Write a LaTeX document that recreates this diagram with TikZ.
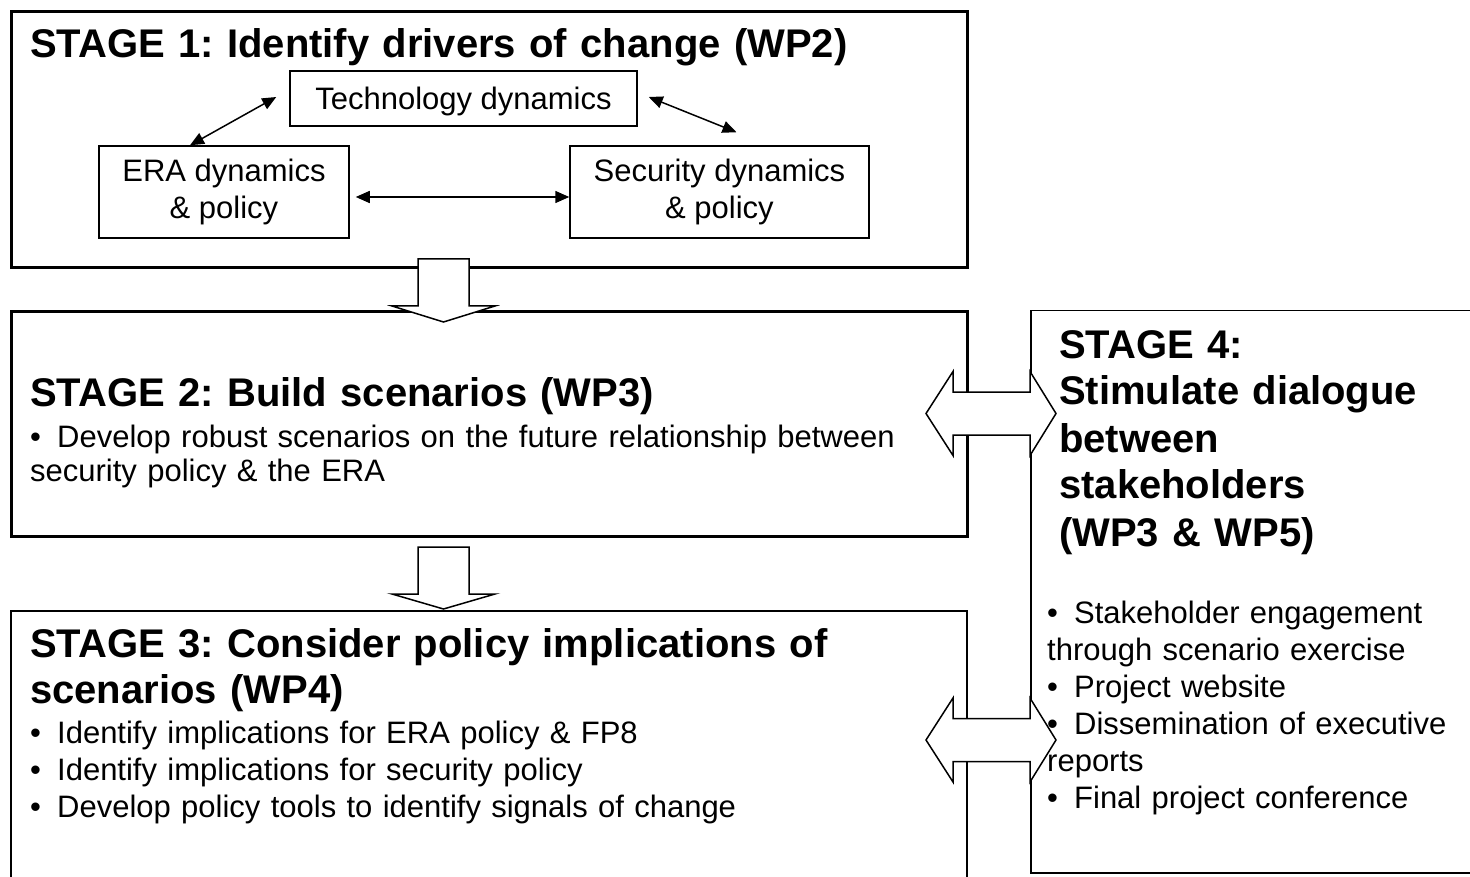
\documentclass[tikz,border=0pt]{standalone}
\usepackage{fontspec}
\setmainfont{Liberation Sans}
\usetikzlibrary{arrows.meta}
\frenchspacing

\newcommand{\itembullet}{\makebox[27pt][l]{\textbullet}}

\begin{document}
\begin{tikzpicture}[x=1pt, y=-1pt,
    stagebox/.style={draw, line width=3pt, anchor=north west, inner sep=0pt},
    drivebox/.style={draw, line width=1.5pt, align=center, font=\fontsize{31}{37}\selectfont},
    stagetitle/.style={anchor=base west, inner sep=0pt, align=left, text width=920pt, font=\fontsize{40}{46}\bfseries\selectfont},
    bodytext/.style={anchor=base west, inner sep=0pt, align=left, text width=920pt, font=\fontsize{31}{37}\selectfont},
    blockarrow/.style={draw, fill=white, line width=1.5pt, line join=miter},
    twoway/.style={<->, >={Triangle[length=14pt,width=12pt]}, line width=1.5pt}]
    \useasboundingbox (0,0) rectangle (1470,877);

    % stages
    \node[stagebox, minimum width=956pt, minimum height=256pt] (stage1) at (10,10) {};
    \node[stagebox, minimum width=956pt, minimum height=225pt] (stage2) at (10,310) {};
    \node[stagebox, line width=1.5pt, minimum width=956pt, minimum height=290pt] (stage3) at (10,610) {};
    \node[stagebox, line width=1.5pt, minimum width=470pt, minimum height=562pt] (stage4) at (1030,310) {};

    % drivers of change
    \node[drivebox, minimum width=347pt, minimum height=55pt, text height=28pt, text depth=6.5pt] (tech) at (463.5,98.5) {Technology dynamics};
    \node[drivebox, minimum width=250pt, minimum height=92pt] (era) at (224,192) {ERA dynamics\\ \& policy};
    \node[drivebox, minimum width=299pt, minimum height=92pt] (sec) at (719.5,192) {Security dynamics\\ \& policy};

    \draw[twoway] ([xshift=-34pt]era.north) -- ([xshift=-13pt, yshift=1.5pt]tech.west);
    \draw[twoway] ([xshift=11pt, yshift=1.5pt]tech.east) -- ([xshift=17pt, yshift=13pt]sec.north);
    \draw[twoway] ([xshift=6pt, yshift=-5pt]era.east) -- ([yshift=-5pt]sec.west);

    % block arrows
    \draw[blockarrow] (418,259) -- (469,259) -- (469,306) -- (495,306) -- (443.5,322) -- (392,306) -- (418,306) -- cycle;
    \draw[blockarrow] (418,547) -- (469,547) -- (469,594) -- (495,594) -- (443.5,609) -- (392,594) -- (418,594) -- cycle;
    \draw[blockarrow] (926,413.5) -- (953,371.5) -- (953,392) -- (1030,392) -- (1030,371.5) -- (1056,413.5)
        -- (1030,455.5) -- (1030,435) -- (953,435) -- (953,455.5) -- cycle;
    \draw[blockarrow] (926,740) -- (953,698) -- (953,718.5) -- (1030,718.5) -- (1030,698) -- (1056,740)
        -- (1030,782) -- (1030,761.5) -- (953,761.5) -- (953,782) -- cycle;

    % texts
    \node[stagetitle] (title1) at (30,58) {STAGE 1: Identify drivers of change (WP2)};

    \node[stagetitle] (title2) at (30,406) {STAGE 2: Build scenarios (WP3)};
    \node[bodytext, font=\fontsize{31}{34}\selectfont] (text2) at (30,447)
        {\itembullet Develop robust scenarios on the future relationship between\\security policy \& the ERA};

    \node[stagetitle] (title3) at (30,657) {STAGE 3: Consider policy implications of\\scenarios (WP4)};
    \node[bodytext] (text3) at (30,743)
        {\itembullet Identify implications for ERA policy \& FP8\\\itembullet Identify implications for security policy\\\itembullet Develop policy tools to identify signals of change};

    \node[stagetitle, font=\fontsize{40}{47}\bfseries\selectfont] (title4) at (1059,358)
        {STAGE 4:\\Stimulate dialogue\\between\\stakeholders\\(WP3 \& WP5)};
    \node[bodytext] (text4) at (1047,623)
        {\itembullet Stakeholder engagement\\through scenario exercise\\\itembullet Project website\\\itembullet Dissemination of executive\\reports\\\itembullet Final project conference};

\end{tikzpicture}
\end{document}
